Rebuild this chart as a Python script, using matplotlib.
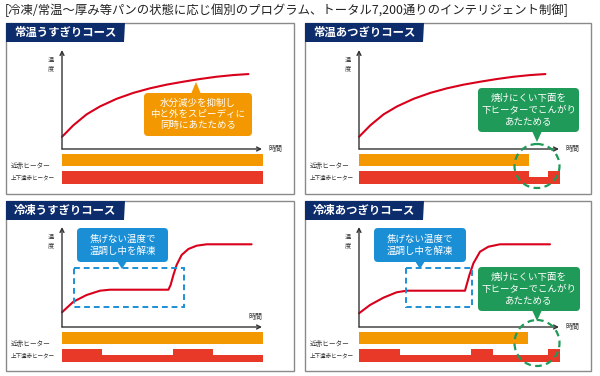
import numpy as np
import matplotlib.pyplot as plt
from matplotlib.patches import Rectangle, FancyBboxPatch, Polygon, Ellipse

plt.rcParams['font.family'] = ['Noto Sans CJK JP', 'DejaVu Sans']

W, H = 600, 376

header = "[冷凍/常温～厚み等パンの状態に応じ個別のプログラム、トータル7,200通りのインテリジェント制御]"
course_names = ["常温うすぎりコース", "常温あつぎりコース", "冷凍うすぎりコース", "冷凍あつぎりコース"]
heater_labels = ["近赤ヒーター", "上下遠赤ヒーター"]

# temperature curves (time 0-100, temperature 0-100)
room_thin_t = [0, 5.7, 12.3, 19, 27.3, 35.7, 44, 52.3, 60.7, 69, 77.3, 85.7, 93.2]
room_thin_T = [12.3, 24, 35, 43, 50.7, 56.7, 61.3, 65, 68, 70.7, 73, 74.7, 75.7]
room_thick_t = [0, 5.7, 12.3, 19, 27.3, 35.7, 44, 52.3, 60.7, 69, 77.3, 85.7, 93.2]
room_thick_T = [12.3, 24, 35, 43, 50.7, 56.7, 61.3, 65, 68, 70.7, 73, 74.7, 75.7]
frozen_thin_t = [0, 5.7, 12.3, 19, 24, 53.2, 54.3, 55.7, 57.3, 59.8, 63.2, 67.3, 72.3, 94.8]
frozen_thin_T = [14.7, 25.3, 32, 36.3, 37.3, 37.3, 42, 52, 62, 72, 78, 81.3, 82.7, 82.7]
frozen_thick_t = [0, 5.5, 12.2, 18.8, 23.8, 53, 53.8, 55.2, 57.2, 60.5, 64.7, 70.5, 95.5]
frozen_thick_T = [13.7, 22, 29.3, 34.7, 36.3, 36.3, 42, 52, 63.7, 75.3, 80.3, 82.7, 82.7]

# heater schedules: near-IR on until; far-IR segments (start, end, level)
near_end = [100.5, 85, 100.5, 84.5]
far_room_thin = [(0, 100.5, 1.0)]
far_room_thick = [(0, 85, 1.0), (85, 94.5, 0.55), (94.5, 100.5, 1.0)]
far_frozen_thin = [(0, 20, 1.0), (20, 55.5, 0.55), (55.5, 75.5, 1.0), (75.5, 100.5, 0.55)]
far_frozen_thick = [(0, 20.5, 1.0), (20.5, 56, 0.55), (56, 67, 1.0), (67, 94.5, 0.55), (94.5, 100.5, 1.0)]

curves = [(room_thin_t, room_thin_T), (room_thick_t, room_thick_T),
          (frozen_thin_t, frozen_thin_T), (frozen_thick_t, frozen_thick_T)]
far_sched = [far_room_thin, far_room_thick, far_frozen_thin, far_frozen_thick]

NAVY = "#0d2c6c"
ORANGE = "#f39800"
RED_BAR = "#e83828"
RED_LINE = "#d9001b"
BLUE = "#1b8fd6"
GREEN = "#1f9a58"
GREY = "#8a8a8a"

fig = plt.figure(figsize=(W / 100, H / 100), dpi=100)
fig.patch.set_facecolor("white")


def px_axes(x0, y0, x1, y1, z):
    ax = fig.add_axes([x0 / W, 1 - y1 / H, (x1 - x0) / W, (y1 - y0) / H], zorder=z)
    ax.patch.set_alpha(0)
    ax.axis("off")
    return ax


bg = px_axes(0, 0, W, H, 0)
bg.set_xlim(0, W)
bg.set_ylim(H, 0)
fg = px_axes(0, 0, W, H, 3)
fg.set_xlim(0, W)
fg.set_ylim(H, 0)

bg.text(5, 10, header, fontsize=8.9, color="#222", ha="left", va="center")

# panel frames: (box x0, y0, x1, y1, axis x, x-axis y, y-axis top)
panels = [(6, 23, 294, 194, 62, 149, 50),
          (305, 23, 591, 194, 359, 149, 50),
          (6, 201, 294, 371, 62, 327, 227),
          (305, 201, 591, 371, 359, 327, 227)]

for i, (bx0, by0, bx1, by1, ax0, axy, aytop) in enumerate(panels):
    bg.add_patch(Rectangle((bx0, by0), bx1 - bx0, by1 - by0, fill=False,
                           ec=GREY, lw=1.0))
    tab = Polygon([(bx0, by0), (bx0 + 119, by0), (bx0 + 118, by0 + 19), (bx0, by0 + 19)],
                  closed=True, fc=NAVY, ec="none")
    bg.add_patch(tab)
    bg.text(bx0 + 8, by0 + 9.5, course_names[i], color="white", fontsize=8.2,
            fontweight="bold", ha="left", va="center")

    # temperature chart
    ax = px_axes(ax0, aytop, ax0 + 200, axy, 1)
    ax.set_xlim(0, 100)
    ax.set_ylim(0, 100)
    t, T = curves[i]
    ax.plot(t, T, color=RED_LINE, lw=1.5, solid_capstyle="round",
            solid_joinstyle="round", clip_on=False)
    arrow = dict(arrowstyle="->", lw=1.0, color="#333", shrinkA=0, shrinkB=0,
                 mutation_scale=7)
    ax.annotate("", xy=(0, 1), xytext=(0, 0), xycoords="axes fraction", arrowprops=arrow)
    ax.annotate("", xy=(1, 0), xytext=(0, 0), xycoords="axes fraction", arrowprops=arrow)
    bg.text(ax0 - 11, aytop + 6, "温\n度", fontsize=4.5, ha="center", va="top",
            linespacing=1.0, color="#333")
    if i == 2:
        bg.text(ax0 + 193, axy - 10, "時間", fontsize=5, ha="center", va="center", color="#333")
    else:
        bg.text(ax0 + 206, axy, "時間", fontsize=5, ha="left", va="center", color="#333")

    # heaters
    hx = px_axes(ax0, axy + 4, ax0 + 200, axy + 36, 1)
    hx.set_xlim(0, 100)
    hx.set_ylim(0, 32)
    hx.barh(19, near_end[i], left=0, height=12, align="edge", color=ORANGE, clip_on=False)
    for s, e, lv in far_sched[i]:
        hx.barh(1, e - s, left=s, height=13 * lv, align="edge", color=RED_BAR,
                clip_on=False, lw=0)
    bg.text(bx0 + 5, axy + 16.5, heater_labels[0], fontsize=4.8, ha="left",
            va="center", color="#333")
    bg.text(bx0 + 5, axy + 28.5, heater_labels[1], fontsize=4.0, ha="left",
            va="center", color="#333")


def callout(x0, y0, x1, y1, color, lines, tip, up):
    fg.add_patch(FancyBboxPatch((x0, y0), x1 - x0, y1 - y0,
                                boxstyle="round,pad=0,rounding_size=4",
                                fc=color, ec="none"))
    tx, ty = tip
    if up:
        tri = [(tx - 5, y0 + 1), (tx + 5, y0 + 1), (tx, ty)]
    else:
        tri = [(tx - 5, y1 - 1), (tx + 5, y1 - 1), (tx, ty)]
    fg.add_patch(Polygon(tri, closed=True, fc=color, ec="none"))
    fg.text((x0 + x1) / 2, (y0 + y1) / 2, "\n".join(lines), color="white",
            fontsize=6.8, ha="center", va="center", linespacing=1.3)


callout(144, 93, 252, 136, ORANGE,
        ["水分減少を抑制し", "中と外をスピーディに", "同時にあたためる"], (196, 82), True)

green_lines = ["焼けにくい下面を", "下ヒーターでこんがり", "あたためる"]
blue_lines = ["焦げない温度で", "温調し中を解凍"]
callout(478, 88, 579, 132, GREEN, green_lines, (537, 142), False)
callout(478, 267, 580, 311, GREEN, green_lines, (537, 321), False)
callout(77, 228, 168, 262, BLUE, blue_lines, (122, 269), False)
callout(374, 228, 466, 262, BLUE, blue_lines, (420, 269), False)

# dashed highlight boxes / circles
fg.add_patch(Rectangle((74, 268), 110, 39, fill=False, ec=BLUE, lw=1.4, ls=(0, (3, 2))))
fg.add_patch(Rectangle((406, 268), 66, 39, fill=False, ec=BLUE, lw=1.4, ls=(0, (3, 2))))
fg.add_patch(Ellipse((537, 166), 45, 44, fill=False, ec=GREEN, lw=1.6, ls=(0, (3, 2))))
fg.add_patch(Ellipse((537, 343), 45, 46, fill=False, ec=GREEN, lw=1.6, ls=(0, (3, 2))))

fig.savefig("out.png", dpi=100, facecolor="white")
